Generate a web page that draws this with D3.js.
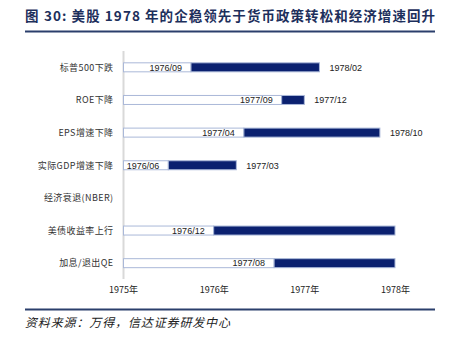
<!DOCTYPE html>
<html><head><meta charset="utf-8">
<script src="https://cdn.jsdelivr.net/npm/d3@7"></script>
<style>body{margin:0;background:#fff}svg{display:block}</style>
</head><body>
<script>
const categories = ["标普500下跌","ROE下降","EPS增速下降","实际GDP增速下降","经济衰退(NBER)","美债收益率上行","加息/退出QE"];
const startDates = ["1976/09","1977/09","1977/04","1976/06",null,"1976/12","1977/08"];
const endDates   = ["1978/02","1977/12","1978/10","1977/03",null,"1978/12","1978/12"];
const showEndLabel = [true,true,true,true,false,false,false];
const axisStart = "1975/12", axisEnd = "1978/12";
const tickDates = ["1975/12","1976/12","1977/12","1978/12"];
const tickLabels = ["1975年","1976年","1977年","1978年"];

const W=451,H=346;
const svg=d3.select("body").append("svg").attr("width",W).attr("height",H);
const toV=s=>{const [y,m]=s.split("/").map(Number);return y+(m-1)/12;};
const x=d3.scaleLinear().domain([toV(axisStart),toV(axisEnd)]).range([123,395]);
const y=d3.scaleBand().domain(categories).range([51,279.5]);
const barH=9;
const navy="#0b2170", edge="#aab8d8";

// title
const title=svg.append("text").attr("x",25).attr("y",20.5).attr("fill","#1d2f5c")
  .attr("font-family","'Noto Sans CJK SC',sans-serif").attr("font-weight","bold").attr("font-size",13.5);
title.append("tspan").text("图");
title.append("tspan").attr("x",44).attr("textLength",391).attr("lengthAdjust","spacing")
  .text("30: 美股 1978 年的企稳领先于货币政策转松和经济增速回升");
svg.append("line").attr("x1",25).attr("x2",435).attr("y1",31.5).attr("y2",31.5).attr("stroke","#2b3f6c").attr("stroke-width",2);

// y axis line
svg.append("line").attr("x1",123.5).attr("x2",123.5).attr("y1",51).attr("y2",279).attr("stroke","#d9d9d9").attr("stroke-width",2);

// bars
categories.forEach((c,i)=>{
  if(!startDates[i]) return;
  const yy=y(c)+y.bandwidth()/2-barH/2;
  const xs=x(toV(startDates[i])), xe=x(toV(endDates[i]));
  svg.append("rect").attr("x",x.range()[0]+0.5).attr("y",yy).attr("width",xs-x.range()[0]-0.5).attr("height",barH)
    .attr("fill","#fff").attr("stroke",edge).attr("stroke-width",1);
  svg.append("rect").attr("x",xs).attr("y",yy).attr("width",xe-xs).attr("height",barH)
    .attr("fill",navy).attr("stroke",edge).attr("stroke-width",1);
  svg.append("text").attr("x",xs-9).attr("y",y(c)+y.bandwidth()/2+3.3).attr("text-anchor","end")
    .attr("font-family","'Liberation Sans',Arial,sans-serif").attr("font-size",9).attr("fill","#222").text(startDates[i]);
  if(showEndLabel[i]) svg.append("text").attr("x",xe+10).attr("y",y(c)+y.bandwidth()/2+3.3)
    .attr("font-family","'Liberation Sans',Arial,sans-serif").attr("font-size",9).attr("fill","#222").text(endDates[i]);
});

// category labels
svg.append("g").selectAll("text").data(categories).join("text")
  .attr("x",113.5).attr("y",d=>y(d)+y.bandwidth()/2+3.3).attr("text-anchor","end")
  .attr("font-family","'Noto Sans CJK SC',sans-serif").attr("font-size",9).attr("letter-spacing",0.4).attr("fill","#333").text(d=>d);

// x axis labels
const xAxis=d3.axisBottom(x).tickValues(tickDates.map(toV)).tickFormat((d,i)=>tickLabels[i]).tickSize(0).tickPadding(0);
const gx=svg.append("g").attr("transform","translate(0,286.5)").call(xAxis);
gx.select(".domain").remove();
gx.selectAll("text").attr("font-family","'Noto Sans CJK SC',sans-serif").attr("font-size",9).attr("fill","#222").attr("dy","0.71em");

// bottom line & source
svg.append("line").attr("x1",25).attr("x2",435).attr("y1",309.5).attr("y2",309.5).attr("stroke","#2b3f6c").attr("stroke-width",2);
svg.append("text").attr("x",25).attr("y",327).attr("fill","#222")
  .attr("font-family","'Noto Sans CJK SC',sans-serif").attr("font-style","italic").attr("font-size",12)
  .attr("textLength",205).attr("lengthAdjust","spacing")
  .text("资料来源：万得，信达证券研发中心");
</script>
</body></html>
